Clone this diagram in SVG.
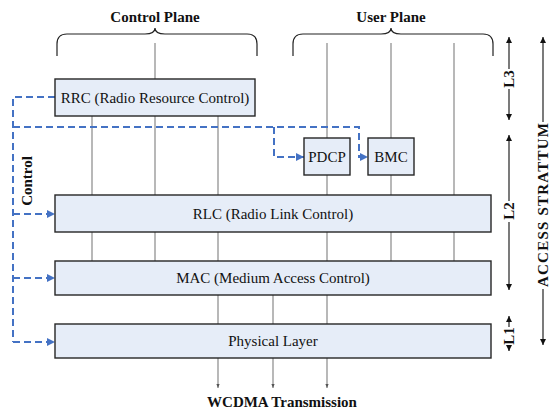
<svg xmlns="http://www.w3.org/2000/svg" width="552" height="412" viewBox="0 0 552 412" font-family="'Liberation Serif', 'Times New Roman', 'DejaVu Serif', serif">
<defs>
<style>
text{font-family:'Liberation Serif','Times New Roman','DejaVu Serif',serif}
.box{fill:#E6EDF8;stroke:#262626;stroke-width:1.4}
.lbl{font-size:15px;fill:#111;text-anchor:middle}
.hdr{font-size:15px;font-weight:bold;fill:#111;text-anchor:middle}
.ln{stroke:#7f7f7f;stroke-width:1.1;fill:none}
.brace{stroke:#222;stroke-width:1.2;fill:none}
.dash{stroke:#4472C4;stroke-width:2;stroke-dasharray:7 4;fill:none}
.dim{stroke:#222;stroke-width:1.2;fill:none}
</style>
<marker id="ab" viewBox="0 0 10 10" refX="10" refY="5" markerWidth="4" markerHeight="4" orient="auto"><path d="M0,0 L10,5 L0,10 z" fill="#4472C4"/></marker>
<marker id="ag" viewBox="0 0 10 10" refX="10" refY="5" markerWidth="4" markerHeight="4" orient="auto"><path d="M0,1 L10,5 L0,9 z" fill="#555"/></marker>
<marker id="ak" viewBox="0 0 10 10" refX="10" refY="5" markerWidth="5" markerHeight="5" orient="auto-start-reverse"><path d="M0,0 L10,5 L0,10 z" fill="#111"/></marker>
</defs>

<g id="headers">
<text class="hdr" x="155" y="22">Control Plane</text>
<text class="hdr" x="391" y="22">User Plane</text>
<path class="brace" d="M57,56 L57,44 Q57,34 67,34 L145,34 Q155,34 155,28 Q155,34 165,34 L247,34 Q257,34 257,44 L257,56"/>
<path class="brace" d="M293,56 L293,44 Q293,34 303,34 L381,34 Q391,34 391,28 Q391,34 401,34 L483,34 Q493,34 493,44 L493,56"/>
</g>

<g id="connectors">
<path class="ln" d="M155,43 V79 M92,116 V195 M155,116 V195 M218,116 V195"/>
<path class="ln" d="M327,43 V138 M327,175 V195 M391,43 V138 M391,175 V195 M454,43 V195"/>
<path class="ln" d="M92,232 V261 M155,232 V261 M218,232 V261 M327,232 V261 M391,232 V261 M454,232 V261"/>
<path class="ln" d="M218,295 V324 M273,295 V324 M327,295 V324"/>
<path class="ln" marker-end="url(#ag)" d="M218,358 V388"/>
<path class="ln" marker-end="url(#ag)" d="M273,358 V388"/>
<path class="ln" marker-end="url(#ag)" d="M327,358 V388"/>
<path class="dash" d="M55,97 H13 V342"/>
<path class="dash" marker-end="url(#ab)" d="M13,342 H55"/>
<path class="dash" marker-end="url(#ab)" d="M13,214 H55"/>
<path class="dash" marker-end="url(#ab)" d="M13,278 H55"/>
<path class="dash" marker-end="url(#ab)" d="M13,127 H359 V157 H368"/>
<path class="dash" marker-end="url(#ab)" d="M274,127 V157 H304"/>
</g>

<g id="rrc"><rect class="box" x="55" y="79" width="200" height="37"/><text class="lbl" x="155" y="103">RRC (Radio Resource Control)</text></g>
<g id="pdcp"><rect class="box" x="304" y="138" width="46" height="37"/><text class="lbl" x="327" y="162">PDCP</text></g>
<g id="bmc"><rect class="box" x="368" y="138" width="46" height="37"/><text class="lbl" x="391" y="162">BMC</text></g>
<g id="rlc"><rect class="box" x="55" y="195" width="436" height="37"/><text class="lbl" x="273" y="219">RLC (Radio Link Control)</text></g>
<g id="mac"><rect class="box" x="55" y="261" width="436" height="34"/><text class="lbl" x="273" y="283">MAC (Medium Access Control)</text></g>
<g id="phy"><rect class="box" x="55" y="324" width="436" height="34"/><text class="lbl" x="273" y="346">Physical Layer</text></g>

<g id="control-label"><text class="hdr" transform="translate(32,181) rotate(-90)">Control</text></g>
<g id="wcdma"><text class="hdr" x="282" y="407">WCDMA Transmission</text></g>

<g id="layers">
<path class="dim" marker-start="url(#ak)" d="M509,37 V69"/>
<path class="dim" marker-end="url(#ak)" d="M509,89 V120"/>
<text class="hdr" transform="translate(514,79) rotate(-90)">L3</text>
<path class="dim" marker-start="url(#ak)" d="M509,135 V201"/>
<path class="dim" marker-end="url(#ak)" d="M509,222 V290"/>
<text class="hdr" transform="translate(514,211) rotate(-90)">L2</text>
<path class="dim" marker-start="url(#ak)" d="M509,316 V327"/>
<path class="dim" marker-end="url(#ak)" d="M509,345 V351"/>
<text class="hdr" transform="translate(513.5,336) rotate(-90)" font-size="14">L1</text>
</g>

<g id="access-stratum">
<path class="dim" marker-start="url(#ak)" d="M543,37 V122"/>
<path class="dim" marker-end="url(#ak)" d="M543,289 V345"/>
<text class="hdr" transform="translate(548,205) rotate(-90)" textLength="164" lengthAdjust="spacing">ACCESS STRATTUM</text>
</g>
</svg>
